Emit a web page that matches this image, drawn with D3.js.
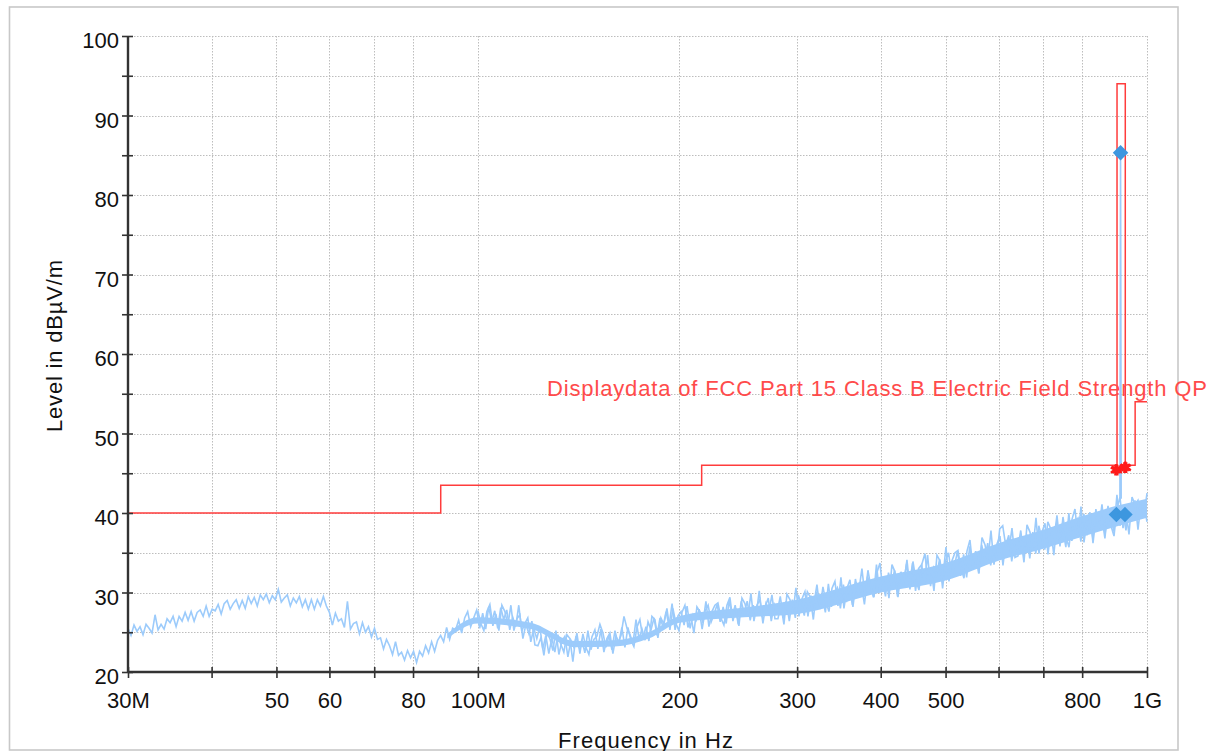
<!DOCTYPE html>
<html>
<head>
<meta charset="utf-8">
<script src="https://cdn.jsdelivr.net/npm/d3@7"></script>
<style>
  html, body { margin: 0; padding: 0; background: #fff; }
  svg { display: block; font-family: "Liberation Sans", Arial, sans-serif; }
</style>
</head>
<body>
<svg id="chart" width="1221" height="751"></svg>
<script>
// ---------------- data ----------------
const xTickValues = [30, 40, 50, 60, 70, 80, 100, 200, 300, 400, 500, 600, 700, 800, 1000];
const xTickLabels = ["30M", "", "50", "60", "", "80", "100M", "200", "300", "400", "500", "", "", "800", "1G"];
const yTickValues = [20, 25, 30, 35, 40, 45, 50, 55, 60, 65, 70, 75, 80, 85, 90, 95, 100];
const yTickLabels = ["20", "", "30", "", "40", "", "50", "", "60", "", "70", "", "80", "", "90", "", "100"];

// limit line (FCC Part 15 Class B, QP) – MHz / dBµV/m
const limitFreq  = [30, 88, 88, 216, 216, 902, 902, 928, 928, 960, 960, 1000];
const limitLevel = [40, 40, 43.5, 43.5, 46, 46, 94, 94, 46, 46, 54, 54];

// measured trace, sweep 1: levels on an even (log) grid from trace1Start to trace1End
const trace1Start = 30, trace1End = 1000;
const trace1Levels = [
  25.5,24.6,25.9,25.1,25.7,24.7,26.0,25.5,24.9,27.2,25.3,26.0,25.4,26.7,26.2,27.0,25.7,27.0,26.4,27.5,
  26.5,27.6,26.4,27.5,27.8,27.0,28.3,27.0,27.9,27.7,28.5,27.3,28.6,29.0,27.9,28.6,29.1,28.0,29.0,28.0,
  29.5,28.6,29.4,28.3,29.7,29.1,29.8,28.7,29.6,29.1,30.4,28.8,29.3,29.7,28.3,29.3,28.7,29.5,28.2,29.1,
  27.9,29.1,27.9,29.1,28.3,29.5,28.3,27.5,25.9,27.4,26.4,26.7,25.6,28.9,25.4,26.1,26.3,24.8,26.2,25.0,
  25.7,24.4,25.5,24.1,24.3,22.9,24.1,23.3,22.2,23.8,22.1,22.5,21.5,22.7,21.8,22.6,21.2,22.6,22.0,23.3,
  22.4,23.8,22.6,24.0,24.6,23.8,25.6,24.1,25.5,25.3,26.5,24.9,26.8,27.6,25.7,26.8,27.8,25.5,27.4,25.4,
  28.2,26.3,27.7,25.5,28.1,26.6,27.8,25.3,26.9,25.7,28.4,25.1,26.1,26.8,23.8,25.5,24.2,25.7,22.9,24.6,
  22.3,24.3,22.5,24.7,23.5,22.5,24.7,24.2,21.3,24.5,23.2,24.0,22.4,25.2,22.8,24.1,24.5,26.0,24.9,23.1,
  24.6,22.8,25.2,23.6,24.6,27.0,25.5,24.7,23.6,26.6,24.2,25.4,24.0,26.3,25.3,26.8,24.6,26.8,25.7,27.6,
  25.8,28.6,25.3,27.1,27.6,25.9,28.3,25.5,27.2,26.5,27.9,25.4,27.7,28.4,26.3,27.3,28.5,26.3,28.2,26.1,
  29.0,26.9,28.4,26.0,28.9,27.4,28.9,26.5,28.4,27.2,30.2,26.9,28.2,29.3,26.4,28.5,27.6,29.5,26.8,28.9,
  26.4,29.1,26.8,29.7,28.5,27.1,30.1,29.4,26.6,30.1,28.5,29.4,27.5,31.1,28.2,30.0,30.6,28.0,31.0,28.8,
  30.8,28.4,31.7,29.6,30.9,28.5,32.0,30.9,29.4,33.5,30.0,31.5,29.5,32.5,30.9,32.8,29.5,32.5,31.0,33.6,
  31.0,33.7,30.2,33.0,33.5,31.2,34.7,30.8,33.1,32.2,34.2,30.5,34.0,35.0,31.9,33.5,35.2,32.1,34.8,31.9,
  35.8,33.4,35.2,32.4,36.0,34.3,36.2,33.4,35.6,34.3,38.0,38.4,35.9,37.2,33.9,36.5,35.4,37.8,34.7,37.3,
  34.3,37.6,34.9,38.4,36.9,35.4,38.9,38.0,34.7,38.8,36.9,38.0,35.7,40.0,36.5,38.6,39.3,36.4,39.9,37.2,
  39.5,36.8,40.5,38.0,39.5,36.8,40.7,39.4,37.7,42.3,38.4,40.1,37.8,41.2,39.5,41.6,37.9,41.2,39.6,42.5
];
// measured trace, sweep 2 (dense part above 100 MHz)
const trace2Start = 100, trace2End = 1000;
const trace2Levels = [
  27.7,26.1,25.2,27.6,28.5,25.8,27.3,25.2,28.4,27.6,25.9,28.4,25.2,26.7,27.2,24.2,26.0,24.8,26.4,23.4,
  23.3,24.3,22.1,24.9,24.2,22.7,25.2,22.2,23.9,24.5,21.9,24.0,23.1,24.9,22.3,24.8,23.1,22.2,24.4,25.3,
  22.9,25.4,22.5,24.2,24.9,22.3,24.5,23.7,25.6,23.1,25.6,24.0,23.2,25.6,26.6,24.2,25.7,23.9,27.0,26.6,
  24.3,26.8,26.0,28.0,25.3,28.0,26.1,25.2,27.5,28.4,25.6,27.0,24.9,28.2,27.6,26.2,28.9,25.7,27.6,28.4,
  28.7,26.8,25.9,28.4,29.4,26.4,28.0,25.8,29.3,28.6,27.0,29.9,26.4,28.4,29.1,26.1,28.6,27.6,29.7,26.7,
  26.7,28.4,26.0,29.8,29.1,27.4,30.6,27.0,29.2,30.1,27.0,29.6,28.6,31.0,27.9,30.7,28.8,27.6,30.5,31.4,
  28.3,31.9,28.0,30.5,31.6,28.2,31.3,30.3,33.0,29.5,32.8,30.6,29.4,32.5,33.7,30.1,32.0,29.3,33.5,32.6,
  29.4,32.6,31.3,34.1,30.4,33.9,31.5,30.3,33.6,34.9,31.1,33.0,30.2,34.7,34.0,32.0,35.7,31.4,34.0,35.0,
  35.3,33.0,31.8,35.2,36.6,33.0,35.1,32.4,36.9,36.0,34.1,37.8,33.5,36.1,37.1,33.4,36.6,35.3,38.1,34.4,
  34.6,36.7,33.8,38.5,37.6,35.5,39.4,34.9,37.6,38.7,34.8,38.1,36.8,39.7,35.8,39.5,37.0,35.7,39.2,40.5,
  36.9,40.8,36.3,39.0,40.1,36.2,39.5,38.2,41.1,37.2,40.9,38.4,37.1,40.6,42.0,38.1,40.2,37.3,42.0,41.1,41.6,39.3,41.0,38.9
];
// dense core of the trace (lower / upper edge of the filled noise band)
const bandFreq = [90, 100, 120, 140, 160, 180, 200, 250, 300, 400, 500, 600, 700, 800, 900, 1000];
const bandLow  = [24.2, 26.1, 25.4, 23.1, 23.2, 24.2, 26.2, 26.9, 27.3, 30.0, 31.5, 34.0, 35.5, 37.0, 38.3, 39.4];
const bandHigh = [24.8, 26.9, 26.2, 23.9, 24.0, 25.0, 27.0, 28.1, 29.1, 32.0, 33.7, 36.2, 37.9, 39.6, 40.9, 41.8];

// carrier spike in the trace
const spikeFreq  = [911, 913, 915];
const spikeLevel = [41.5, 85.3, 41.8];

// final measurement markers
const diamondFreq  = [913, 900, 927];
const diamondLevel = [85.3, 39.8, 39.8];
const starFreq  = [897, 900, 903, 925, 928, 931];
const starLevel = [45.4, 45.5, 45.4, 45.7, 45.8, 45.7];

const legendText = "Displaydata of FCC Part 15 Class B Electric Field Strength QP";

// ---------------- chart ----------------
const svg = d3.select("#chart");

const x = d3.scaleLog().domain([30, 1000]).range([128, 1147]);
const y = d3.scaleLinear().domain([20, 100]).range([672, 36]);

// outer frame
svg.append("rect").attr("x", 9.5).attr("y", 7).attr("width", 1168.5).attr("height", 743)
  .attr("fill", "#fff").attr("stroke", "#c8c8c8").attr("stroke-width", 1.6);

// grid
const grid = svg.append("g").attr("stroke", "#bdbdbd").attr("stroke-width", 1)
  .attr("stroke-dasharray", "1.5,1.5").attr("fill", "none");
grid.selectAll("line.h").data(yTickValues.filter(v => v > 20)).join("line")
  .attr("x1", x(30)).attr("x2", x(1000))
  .attr("y1", d => Math.round(y(d)) + 0.5).attr("y2", d => Math.round(y(d)) + 0.5);
grid.selectAll("line.v").data(xTickValues.filter(v => v > 30)).join("line")
  .attr("y1", y(100)).attr("y2", y(20))
  .attr("x1", d => Math.round(x(d)) + 0.5).attr("x2", d => Math.round(x(d)) + 0.5);

// trace band + lines
const sweep = (levels, f0, f1) => levels.map((v, i) => ({
  f: f0 * Math.pow(f1 / f0, i / (levels.length - 1)), v
}));
const bandData = bandFreq.map((f, i) => ({ f, lo: bandLow[i], hi: bandHigh[i] }));
const traceColor = "#9ccbfb";
const lineGen = d3.line().x(d => x(d.f)).y(d => y(d.v));
svg.append("path").datum(bandData)
  .attr("fill", traceColor).attr("stroke", "none")
  .attr("d", d3.area().x(d => x(d.f)).y0(d => y(d.lo)).y1(d => y(d.hi)).curve(d3.curveMonotoneX));
svg.append("path").datum(sweep(trace2Levels, trace2Start, trace2End))
  .attr("fill", "none").attr("stroke", traceColor).attr("stroke-width", 1.6)
  .attr("d", lineGen);
svg.append("path").datum(sweep(trace1Levels, trace1Start, trace1End))
  .attr("fill", "none").attr("stroke", traceColor).attr("stroke-width", 1.6)
  .attr("d", lineGen);
svg.append("path").datum(spikeFreq.map((f, i) => ({ f, v: spikeLevel[i] })))
  .attr("fill", "none").attr("stroke", traceColor).attr("stroke-width", 1.6)
  .attr("d", lineGen);

// limit line
const limitColor = "#ff3c3c";
svg.append("path").datum(limitFreq.map((f, i) => ({ f, v: limitLevel[i] })))
  .attr("fill", "none").attr("stroke", limitColor).attr("stroke-width", 1.5)
  .attr("d", lineGen);

// legend text
svg.append("text").attr("x", 547).attr("y", 396)
  .attr("font-size", 22).attr("fill", "#ff4b4b")
  .attr("textLength", 660).attr("lengthAdjust", "spacing")
  .text(legendText);

// markers
const starSym = d3.symbol().type(d3.symbolAsterisk || d3.symbolCross).size(80);
svg.append("g").selectAll("path").data(starFreq.map((f, i) => ({ f, v: starLevel[i] }))).join("path")
  .attr("transform", d => `translate(${x(d.f)},${y(d.v)})`)
  .attr("d", starSym).attr("fill", "none").attr("stroke", "#ff1a1a").attr("stroke-width", 2.4);

const diaSym = d3.symbol().type(d3.symbolSquare).size(120);
svg.append("g").selectAll("path").data(diamondFreq.map((f, i) => ({ f, v: diamondLevel[i] }))).join("path")
  .attr("transform", d => `translate(${x(d.f)},${y(d.v)}) rotate(45)`)
  .attr("d", diaSym).attr("fill", "#3d97df");

// axes
const axisColor = "#333";
const xAxis = d3.axisBottom(x).tickValues(xTickValues)
  .tickFormat((d, i) => xTickLabels[i]).tickSize(10).tickPadding(0);
const gx = svg.append("g").attr("transform", `translate(0,${y(20)})`).call(xAxis);
gx.select(".domain").attr("stroke", axisColor).attr("stroke-width", 2.4).attr("d", `M${x(30)},0H${x(1000)}`);
gx.selectAll(".tick line").attr("stroke", axisColor).attr("stroke-width", 1.6).attr("y1", -5).attr("y2", 6);
gx.selectAll(".tick text").attr("font-size", 22).attr("fill", "#111")
  .attr("font-family", "Liberation Sans, Arial, sans-serif")
  .attr("dy", null).attr("y", 36);

const yAxis = d3.axisLeft(y).tickValues(yTickValues)
  .tickFormat((d, i) => yTickLabels[i]).tickSize(10).tickPadding(0);
const gy = svg.append("g").attr("transform", `translate(${x(30)},0)`).call(yAxis);
gy.select(".domain").attr("stroke", axisColor).attr("stroke-width", 2.4).attr("d", `M0,${y(20)}V${y(100)}`);
gy.selectAll(".tick line").attr("stroke", axisColor).attr("stroke-width", 1.6).attr("x1", -6).attr("x2", 5);
gy.selectAll(".tick text").attr("font-size", 22).attr("fill", "#111")
  .attr("font-family", "Liberation Sans, Arial, sans-serif")
  .attr("dy", null).attr("y", 11.5).attr("x", -9);

// axis titles
svg.append("text").attr("transform", "translate(62,346) rotate(-90)")
  .attr("text-anchor", "middle").attr("font-size", 22).attr("fill", "#111")
  .attr("textLength", 172).attr("lengthAdjust", "spacing")
  .text("Level in dBµV/m");
svg.append("text").attr("x", 645.5).attr("y", 747.5)
  .attr("text-anchor", "middle").attr("font-size", 22).attr("fill", "#111")
  .attr("textLength", 175).attr("lengthAdjust", "spacing")
  .text("Frequency in Hz");
</script>
</body>
</html>
